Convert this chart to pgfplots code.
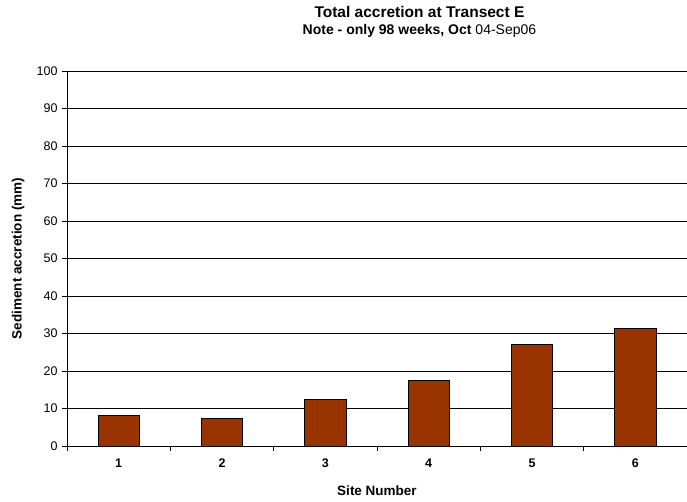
\documentclass[border=0pt]{standalone}
\usepackage{fontspec}
\setmainfont{Liberation Sans}
\usepackage{pgfplots}
\pgfplotsset{compat=1.18}
\definecolor{barred}{HTML}{993300}
\begin{document}
\begin{tikzpicture}[x=1pt,y=1pt]
\useasboundingbox (0,0) rectangle (687,502);
\begin{axis}[
  at={(67pt,56pt)}, anchor=south west,
  scale only axis, width=620pt, height=375pt,
  xmin=0.5, xmax=6.5, ymin=0, ymax=100,
  axis x line*=bottom, axis y line*=left,
  axis line style={black, line width=0.8pt},
  xtick={1,2,3,4,5,6},
  xticklabels={\textbf{1},\textbf{2},\textbf{3},\textbf{4},\textbf{5},\textbf{6}},
  major x tick style={draw=none},
  minor xtick={0.5,1.5,2.5,3.5,4.5,5.5,6.5},
  minor x tick style={black, line width=0.8pt},
  ytick={0,10,...,100},
  y tick style={black, line width=0.8pt},
  tick align=outside, major tick length=5pt, minor tick length=5pt,
  ymajorgrids, grid style={black, line width=0.8pt},
  /pgf/number format/assume math mode=true,
  tick label style={font=\fontsize{12.5}{14}\selectfont},
  xticklabel style={yshift=-4pt},
  yticklabel style={xshift=-1pt},
  xlabel={Site Number},
  xlabel style={font=\fontsize{13.5}{15}\selectfont\bfseries, at={(axis description cs:0.5,-0.12)}, anchor=center},
  ylabel={Sediment accretion (mm)},
  ylabel style={font=\fontsize{13.5}{15}\selectfont\bfseries, at={(axis description cs:-0.079,0.5)}, anchor=center},
  title={{\fontsize{15.5}{17}\selectfont\bfseries Total accretion at Transect E}\\[5pt]{\fontsize{14}{16}\selectfont\bfseries Note - only 98 weeks, Oct \mdseries 04-Sep06}},
  title style={align=center, at={(axis description cs:0.5685,1)}, anchor=south, yshift=24pt},
  clip=false,
]
\addplot[ybar, bar width=0.4, fill=barred, draw=black, line width=0.8pt] coordinates {
  (1,8.15) (2,7.25) (3,12.3) (4,17.5) (5,27.0) (6,31.3)
};
\end{axis}
\end{tikzpicture}
\end{document}
